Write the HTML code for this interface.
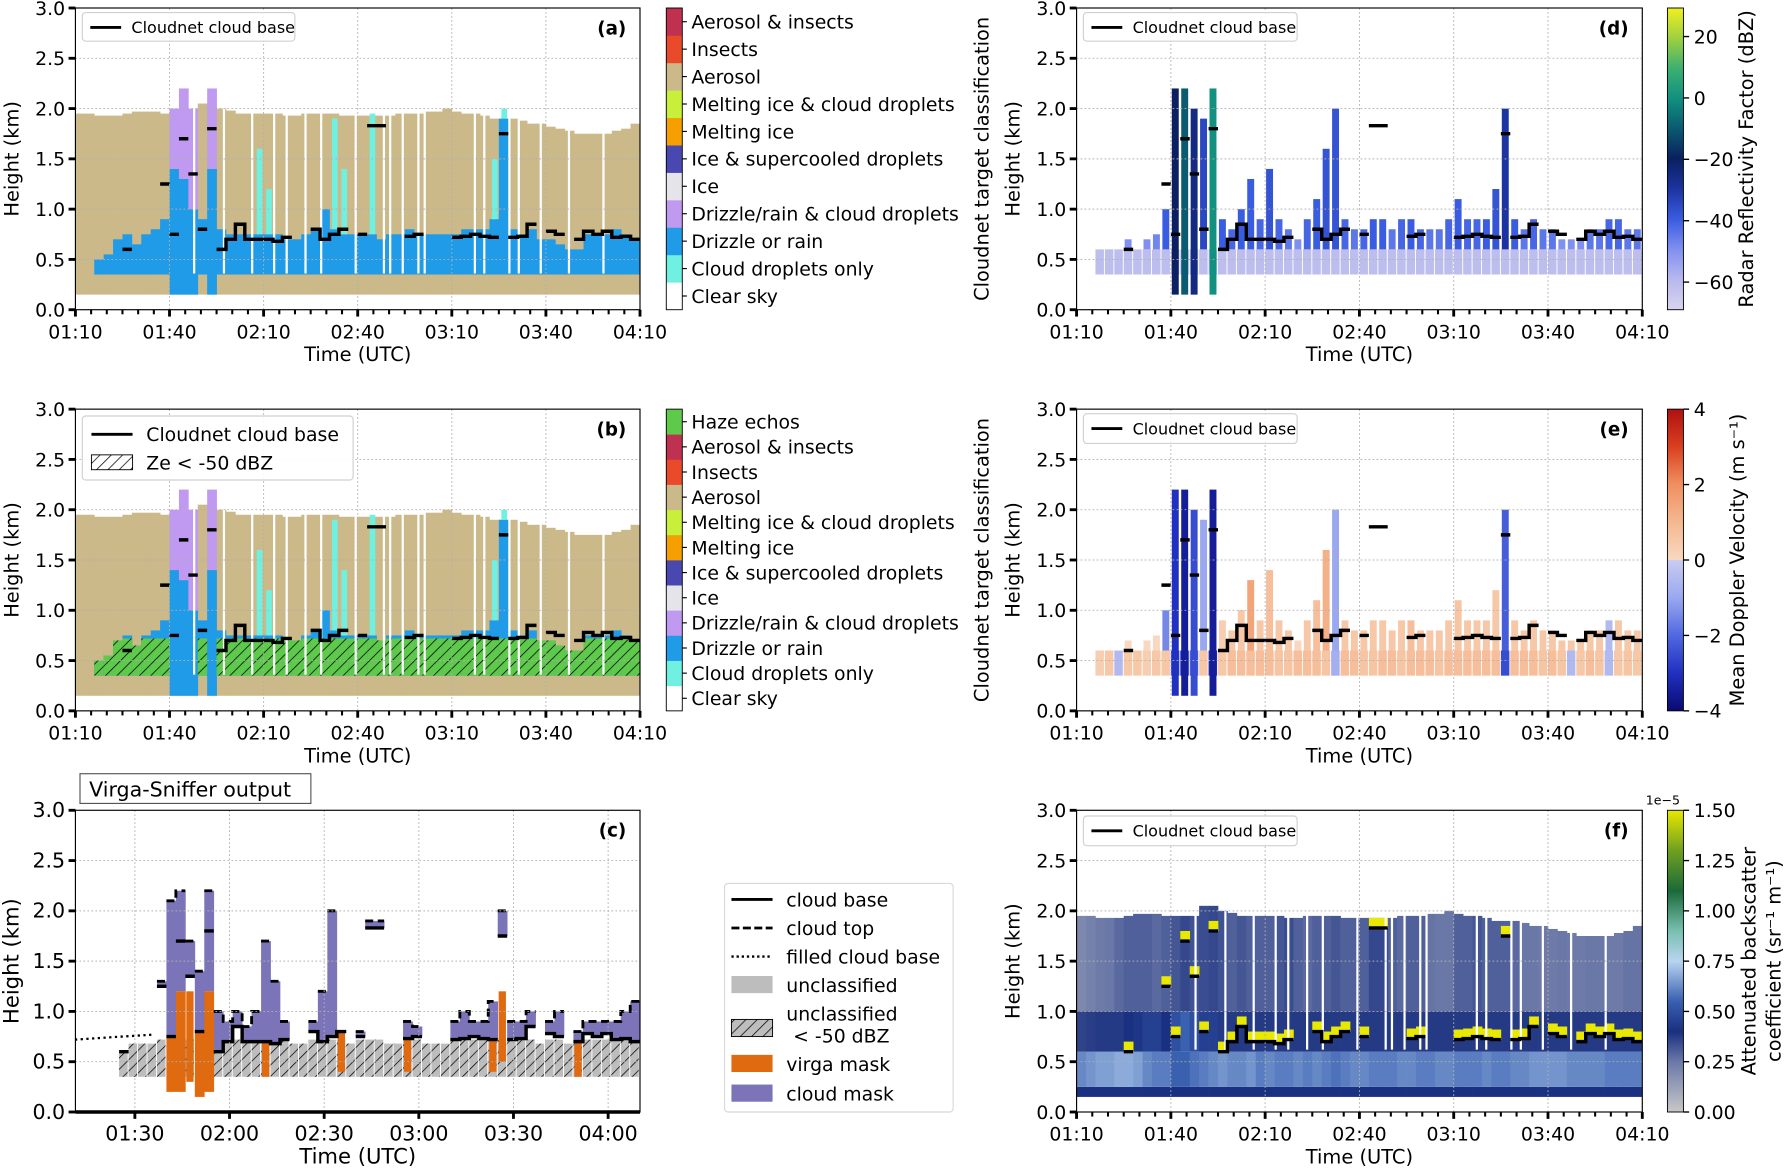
<!DOCTYPE html>
<html><head><meta charset="utf-8"><style>
html,body{margin:0;padding:0;background:#fff}
svg{display:block}
text{font-family:"DejaVu Sans","Liberation Sans",sans-serif;fill:#000}
</style></head><body>
<svg id="fig" width="1792" height="1176" viewBox="0 0 1568 1029" xmlns="http://www.w3.org/2000/svg">
<defs>
<pattern id="hatch" width="7" height="7" patternUnits="userSpaceOnUse" patternTransform="rotate(45)"><line x1="0" y1="0" x2="0" y2="7" stroke="#000" stroke-width="1.3"/></pattern>
<linearGradient id="gd" x1="0" y1="1" x2="0" y2="0"><stop offset="0" stop-color="#d8d4ee"/><stop offset=".1" stop-color="#b8b8ee"/><stop offset=".2" stop-color="#8090f0"/><stop offset=".3" stop-color="#3a5ce0"/><stop offset=".4" stop-color="#1c34a0"/><stop offset=".5" stop-color="#0a2060"/><stop offset=".6" stop-color="#0a5a70"/><stop offset=".7" stop-color="#129080"/><stop offset=".8" stop-color="#3cb070"/><stop offset=".9" stop-color="#9ed040"/><stop offset="1" stop-color="#f0f020"/></linearGradient>
<linearGradient id="ge" x1="0" y1="1" x2="0" y2="0"><stop offset="0" stop-color="#0a0a70"/><stop offset=".125" stop-color="#2030c0"/><stop offset=".25" stop-color="#5068e0"/><stop offset=".375" stop-color="#9aa8f0"/><stop offset=".499" stop-color="#c8ccf0"/><stop offset=".5" stop-color="#f8d8c0"/><stop offset=".625" stop-color="#f5b890"/><stop offset=".75" stop-color="#f09060"/><stop offset=".875" stop-color="#d84020"/><stop offset="1" stop-color="#b01010"/></linearGradient>
<linearGradient id="gf" x1="0" y1="1" x2="0" y2="0"><stop offset="0" stop-color="#c8c8c8"/><stop offset=".167" stop-color="#6a78a8"/><stop offset=".267" stop-color="#1a3080"/><stop offset=".367" stop-color="#3a60b0"/><stop offset=".5" stop-color="#b8d4f0"/><stop offset=".6" stop-color="#78c0b0"/><stop offset=".733" stop-color="#1a6a38"/><stop offset=".867" stop-color="#70a020"/><stop offset="1" stop-color="#e8e800"/></linearGradient>
<clipPath id="ca"><rect x="66" y="7" width="494" height="264"/></clipPath>
<clipPath id="cb"><rect x="66" y="358" width="494" height="264"/></clipPath>
<clipPath id="cc"><rect x="66" y="709" width="494" height="264"/></clipPath>
<clipPath id="cd"><rect x="942" y="7" width="495" height="264"/></clipPath>
<clipPath id="ce"><rect x="942" y="358" width="495" height="264"/></clipPath>
<clipPath id="cf"><rect x="942" y="709" width="495" height="264"/></clipPath>
</defs>
</svg>
<script>
// ---- data (3-minute bins starting 01:10; minutes since 01:00) ----
const binStart = 10, binW = 3;
const aeroTop = [1.95,1.95,1.93,1.93,1.93,1.95,1.97,1.97,1.97,1.95, 1.95,1.95,1.95,2.05,2.05,2.0,1.98,1.95,1.95,1.95, 1.95,1.95,1.93,1.93,1.95,1.95,1.95,1.95,1.93,1.93, 1.93,1.93,1.93,1.93,1.95,1.95,1.95,1.97,1.97,2.0, 1.97,1.95,1.95,1.93,1.9,1.9,1.9,1.88,1.85,1.85, 1.82,1.8,1.78,1.75,1.75,1.75,1.75,1.78,1.8,1.85];
const cloudBase = [0,0,0,0,0,0.6,0,0,0,1.25, 0.75,1.7,1.35,0.8,1.8,0.6,0.7,0.85,0.7,0.7, 0.7,0.68,0.72,0,0,0.8,0.7,0.75,0.8,0, 0.75,1.83,1.83,0,0,0.73,0.75,0,0,0, 0.72,0.73,0.75,0.73,0.72,1.75,0.72,0.73,0.85,0, 0.78,0.75,0,0.7,0.78,0.75,0.78,0.72,0.73,0.7];
const drizzleTop = [0,0,0.5,0.55,0.7,0.75,0.65,0.75,0.8,0.9, 1.4,1.3,1.0,0.9,1.4,0.8,0.75,0.75,0.75,0.75, 0.75,0.75,0.7,0.7,0.75,0.8,1.0,0.8,0.75,0.75, 0.75,0.75,0.7,0.75,0.75,0.8,0.75,0.75,0.75,0.75, 0.75,0.8,0.8,0.8,0.9,1.9,0.8,0.75,0.8,0.7, 0.7,0.65,0.6,0.6,0.75,0.75,0.75,0.8,0.75,0.7];
const purpleTop = [0,0,0,0,0,0,0,0,0,0, 2.0,2.2,2.0,0,2.2,0,0,0,0,0, 0,0,0,0,0,0,0,0,0,0, 0,0,0,0,0,0,0,0,0,0, 0,0,0,0,0,0,0,0,0,0, 0,0,0,0,0,0,0,0,0,0];
const cyanTop = [0,0,0,0,0,0,0,0,0,0, 0,0,0,0,0,0,0,0,0,1.6, 1.2,0,0,0,0,0,0,1.9,1.4,0, 0,1.95,0,0,0,0,0,0,0,0, 0,0,0,0,1.5,2.0,0,0,0,0, 0,0,0,0,0,0,0,0,0,0];
const gapMinutes = [47.5,57,66,73,77,83,88,99,108,110,114,119,121,137,140,148,151,158,167,178];
const radarTop = [0,0,0.55,0.6,0.6,0.7,0.6,0.7,0.75,1.0, 2.2,2.2,2.0,1.9,2.2,0.9,0.8,1.0,1.3,0.9, 1.4,0.9,0.8,0.7,0.9,1.1,1.6,2.0,0.9,0.8, 0.8,0.9,0.9,0.8,0.9,0.9,0.8,0.8,0.8,0.9, 1.1,0.9,0.9,0.9,1.2,2.0,0.9,0.8,0.9,0.8, 0.8,0.7,0.7,0.7,0.8,0.8,0.9,0.9,0.8,0.8];
const radarVal = [-60,-60,-58,-58,-55,-50,-55,-50,-48,-40, -20,-10,-25,-35,0,-40,-42,-40,-40,-42, -38,-42,-45,-50,-42,-40,-38,-38,-42,-45, -42,-40,-40,-45,-42,-40,-42,-45,-45,-42, -40,-42,-42,-40,-38,-30,-40,-45,-42,-45, -45,-50,-50,-50,-45,-45,-42,-42,-45,-45];
const radarLow = -62;
const dopLow = [0,0,0.3,0.5,-0.5,0.5,0.5,0.3,0.5,0.5, -2.5,-3,-2,0.5,-3,0.5,0.8,0.8,0.8,0.8, 0.8,0.6,0.6,0.8,0.8,0.8,0.6,-0.8,0.8,0.8, 0.6,0.6,0.8,0.8,0.6,0.8,0.8,0.8,0.6,0.8, 0.8,0.8,0.8,0.8,0.8,-2.5,0.8,0.8,0.8,0.6, 0.8,0.6,-0.5,0.5,0.8,0.6,-0.5,0.5,0.6,0.5];
const dopUp = [0,0,0,0,0,0,0,0,0,-1.5, -3,-3.5,-2.5,-1,-3.5,0.3,0.5,0.5,1.5,0.5, 0.8,0.5,0.5,0,0.5,0.8,1.2,-1,0.5,0.5, 0.5,0.5,0.5,0.5,0.5,0.8,0.5,0.5,0.5,0.5, 0.6,0.5,0.5,0.5,0.5,-2.2,0.5,0.5,0.5,0.5, 0.5,0.5,0.5,0.5,0.5,0.5,-0.5,0.5,0.5,0.5];
const bsUp = [0.2,0.22,0.24,0.25,0.28,0.3,0.3,0.3,0.28,0.3, 0.32,0.35,0.33,0.34,0.35,0.33,0.3,0.32,0.3,0.3, 0.3,0.32,0.34,0.3,0.28,0.3,0.3,0.32,0.3,0.3, 0.3,0.35,0.35,0.3,0.28,0.3,0.3,0.26,0.25,0.25, 0.3,0.3,0.32,0.3,0.3,0.3,0.28,0.25,0.25,0.24, 0.24,0.25,0.24,0.24,0.25,0.25,0.24,0.24,0.26,0.26];
const bsMid = [0.36,0.37,0.38,0.38,0.38,0.4,0.42,0.45,0.45,0.4, 0.5,0.55,0.5,0.45,0.45,0.38,0.38,0.38,0.38,0.38, 0.38,0.38,0.38,0.38,0.38,0.38,0.38,0.38,0.38,0.38, 0.38,0.38,0.38,0.38,0.38,0.38,0.38,0.38,0.38,0.38, 0.38,0.38,0.38,0.38,0.38,0.38,0.38,0.38,0.38,0.38, 0.38,0.38,0.38,0.38,0.38,0.38,0.38,0.38,0.38,0.38];
const bsLow = [0.62,0.64,0.66,0.66,0.68,0.68,0.66,0.62,0.6,0.6, 0.55,0.55,0.58,0.6,0.62,0.64,0.62,0.62,0.64,0.6, 0.62,0.6,0.6,0.62,0.6,0.62,0.6,0.58,0.6,0.62, 0.62,0.6,0.6,0.6,0.62,0.62,0.6,0.6,0.62,0.62, 0.6,0.6,0.6,0.62,0.6,0.6,0.62,0.62,0.64,0.64, 0.64,0.64,0.62,0.62,0.62,0.62,0.6,0.6,0.6,0.6];
const bsBand = 0.4;
const vsTop = [0,0,0,0,0,0,0,0,0,1.3, 2.1,2.2,1.7,1.4,2.2,1.0,0.9,1.0,0.85,1.0, 1.7,1.3,0.9,1.6,0.9,0.9,1.2,2.0,0.8,0.9, 0.8,1.9,1.9,0,0.9,0.9,0.85,0,0,0, 0.9,1.0,0.9,0.9,1.1,2.0,0.9,0.9,1.0,0, 0.9,1.0,0,0.8,0.9,0.9,0.9,0.9,1.0,1.1];
const virgaBot = [0,0,0,0,0,0,0,0,0,0, 0.2,0.2,0.3,0.15,0.2,0,0,0,0,0, 0.35,0,0,0,0,0,0,0,0.4,0, 0,0,0,0,0,0.4,0,0,0,0, 0,0,0,0,0.4,0.5,0,0,0,0, 0,0,0,0.35,0,0,0,0,0,0];
const filledBaseT = [11, 36]; const filledBaseH = 0.72;
const timeTicks = [10,40,70,100,130,160,190];
const timeLabels = ["01:10","01:40","02:10","02:40","03:10","03:40","04:10"];
const cTimeTicks = [30,60,90,120,150,180];
const cTimeLabels = ["01:30","02:00","02:30","03:00","03:30","04:00"];
const hTicks = [0,0.5,1,1.5,2,2.5,3];
const hLabels = ["0.0","0.5","1.0","1.5","2.0","2.5","3.0"];
const classNamesA = ["Clear sky","Cloud droplets only","Drizzle or rain","Drizzle/rain & cloud droplets","Ice","Ice & supercooled droplets","Melting ice","Melting ice & cloud droplets","Aerosol","Insects","Aerosol & insects"];
const classColorsA = ["#ffffff","#70f0e0","#1f9be8","#c09af0","#e4e4ea","#4848b0","#f5a000","#c8f03a","#cbb98a","#e84a2a","#c03050"];
const dTicks = [20,0,-20,-40,-60]; const eTicks = [4,2,0,-2,-4]; const fTicks = [0,0.25,0.5,0.75,1,1.25,1.5];
const fLabels = ["0.00","0.25","0.50","0.75","1.00","1.25","1.50"];

const cmapD=[[-70,"#d8d4ee"],[-60,"#b8b8ee"],[-50,"#8090f0"],[-40,"#3a5ce0"],[-30,"#1c34a0"],[-20,"#0a2060"],[-10,"#0a5a70"],[0,"#129080"],[10,"#3cb070"],[20,"#9ed040"],[30,"#f0f020"]];
const cmapE=[[-4,"#0a0a70"],[-3,"#2030c0"],[-2,"#5068e0"],[-1,"#9aa8f0"],[-0.01,"#c8ccf0"],[0,"#f8d8c0"],[1,"#f5b890"],[2,"#f09060"],[3,"#d84020"],[4,"#b01010"]];
const cmapF=[[0,"#c8c8c8"],[0.25,"#6a78a8"],[0.4,"#1a3080"],[0.55,"#3a60b0"],[0.75,"#b8d4f0"],[0.9,"#78c0b0"],[1.1,"#1a6a38"],[1.3,"#70a020"],[1.5,"#e8e800"]];
function cmap(m,v){if(v<=m[0][0])return m[0][1];for(let i=1;i<m.length;i++){if(v<=m[i][0]){const f=(v-m[i-1][0])/(m[i][0]-m[i-1][0]);const a=m[i-1][1],b=m[i][1];const c=k=>Math.round(parseInt(a.substr(k,2),16)*(1-f)+parseInt(b.substr(k,2),16)*f);return `rgb(${c(1)},${c(3)},${c(5)})`;}}return m[m.length-1][1];}

const NS='http://www.w3.org/2000/svg';
const svg=document.getElementById('fig');
function mk(p,tag,a){const e=document.createElementNS(NS,tag);for(const k in a)e.setAttribute(k,a[k]);p.appendChild(e);return e;}
function txt(p,x,y,s,size,extra){const t=mk(p,'text',Object.assign({x:x,y:y,'font-size':size},extra||{}));t.textContent=s;return t;}

const P={a:[66,7,494,264,10,190],b:[66,358,494,264,10,190],c:[66,709,494,264,11.16,190.1],d:[942,7,495,264,10,190],e:[942,358,495,264,10,190],f:[942,709,495,264,10,190]};
function ax(k){const [L,T,W,H,t0,t1]=P[k];return {x:t=>L+(t-t0)/(t1-t0)*W,y:h=>T+H-h/3*H,L,T,W,H};}
function rect(g,A,t0,t1,h0,h1,fill){return mk(g,'rect',{x:A.x(t0),y:A.y(h1),width:Math.max(0,A.x(t1)-A.x(t0))+0.3,height:Math.max(0,A.y(h0)-A.y(h1)),fill:fill});}

function frame(k,ticks,labels,minor,fs){
  const A=ax(k);const g=mk(svg,'g',{});
  
  
  ticks.forEach((t,i)=>{const l=mk(g,'line',{x1:A.x(t),x2:A.x(t),y1:A.T,y2:A.T+A.H,stroke:'#b0b0b0','stroke-width':0.8,'stroke-dasharray':'1.5,2'});
    
    });
  hTicks.forEach(h=>{const l=mk(g,'line',{x1:A.L,x2:A.L+A.W,y1:A.y(h),y2:A.y(h),stroke:'#b0b0b0','stroke-width':0.8,'stroke-dasharray':'1.5,2'});
    
    });
  const fr=mk(g,'rect',{x:A.L,y:A.T,width:A.W,height:A.H,fill:'none',stroke:'#000','stroke-width':1});
  
  
  ticks.forEach((t,i)=>{const l=mk(g,'line',{x1:A.x(t),x2:A.x(t),y1:A.T+A.H,y2:A.T+A.H+6,stroke:'#000','stroke-width':2.5});
    
    
    const s=txt(g,A.x(t),A.T+A.H+25,labels[i],fs,{'text-anchor':'middle'});
    
    });
  if(minor){for(let t=ticks[0];t<=ticks[ticks.length-1];t+=5){if((t-ticks[0])%30===0)continue;const l=mk(g,'line',{x1:A.x(t),x2:A.x(t),y1:A.T+A.H,y2:A.T+A.H+4,stroke:'#000','stroke-width':1.8});
    
    }}
  hTicks.forEach((h,i)=>{const l=mk(g,'line',{x1:A.L-6,x2:A.L,y1:A.y(h),y2:A.y(h),stroke:'#000','stroke-width':2.5});
    
    
    const s=txt(g,A.L-9,A.y(h)+6,hLabels[i],fs,{'text-anchor':'end'});
    
    });
  const yl=txt(g,0,0,'Height (km)',fs+0.5,{'text-anchor':'middle',transform:`translate(${A.L-50},${A.T+A.H/2}) rotate(-90)`});
  
  
  const xl=txt(g,A.L+A.W/2,A.T+A.H+45,'Time (UTC)',fs+0.5,{'text-anchor':'middle'});
  
  
  const pl=txt(g,A.L+A.W-12,A.T+23,'('+k+')',16,{'text-anchor':'end','font-weight':'bold'});
  
  
  return A;
}
function stepPath(A,hs,mask){
  let d='';
  hs.forEach((h,i)=>{if(!h||(mask&&!mask[i]))return;const t=binStart+i*binW;const p=i>0?hs[i-1]:0;const ok=p&&(!mask||mask[i-1])&&Math.abs(p-h)<0.25;
    d+=(ok?'L':'M')+A.x(t)+' '+A.y(h)+' L'+(A.x(t+binW))+' '+A.y(h)+' ';});
  return d;
}
function cbLine(g,A){
  const p=mk(g,'path',{d:stepPath(A,cloudBase),fill:'none',stroke:'#000','stroke-width':3});
  
  
}
function legendBox(x,y,w,h,label,fs){
  const g=mk(svg,'g',{});
  
  
  mk(g,'rect',{x:x,y:y,width:w,height:h,rx:3,fill:'#fff','fill-opacity':0.85,stroke:'#d0d0d0'});
  mk(g,'line',{x1:x+7,x2:x+34,y1:y+13,y2:y+13,stroke:'#000','stroke-width':2.5});
  const t=txt(g,x+43,y+18,label,fs);
  
  
  return g;
}
function classPanel(k,haze){
  const A=ax(k);const g=mk(svg,'g',{'clip-path':`url(#c${k})`});
  
  
  aeroTop.forEach((h,i)=>{const t=binStart+i*binW;const r=rect(g,A,t,t+binW,0.15,h,'#cbb98a');
    
    });
  drizzleTop.forEach((h,i)=>{if(!h)return;const t=binStart+i*binW;const tower=purpleTop[i]>0;
    const r=rect(g,A,t,t+binW,tower?0.15:0.35,h,'#1f9be8');
    
    
    if(haze&&!tower){const r2=rect(g,A,t,t+binW,0.35,Math.min(h,0.72),'#5ec94a');
      
      
      const r3=rect(g,A,t,t+binW,0.35,Math.min(h,0.72),'url(#hatch)');
      
      }});
  purpleTop.forEach((h,i)=>{if(!h)return;const t=binStart+i*binW;const r=rect(g,A,t,t+binW,drizzleTop[i],h,'#c09af0');
    
    });
  cyanTop.forEach((h,i)=>{if(!h)return;const t=binStart+i*binW;const r=rect(g,A,t+0.8,t+binW-0.5,drizzleTop[i],h,'#70f0e0');
    
    });
  gapMinutes.forEach(m=>{const r=rect(g,A,m,m+0.6,0.36,2.1,'#fff');
    
    });
  cbLine(g,A);
}
function classBar(x,y,h,names,colors){
  const g=mk(svg,'g',{});
  
  
  const n=names.length,s=h/n;
  names.forEach((nmv,i)=>{const yy=y+h-(i+1)*s;const r=mk(g,'rect',{x:x,y:yy,width:14,height:s+0.3,fill:colors[i]});
    
    
    mk(g,'line',{x1:x+14,x2:x+18,y1:yy+s/2,y2:yy+s/2,stroke:'#000','stroke-width':1});
    const t=txt(g,x+22,yy+s/2+6,nmv,16.5);
    
    });
  mk(g,'rect',{x:x,y:y,width:14,height:h,fill:'none',stroke:'#000','stroke-width':0.8});
}
function contBar(x,y,h,grad,vmin,vmax,ticks,labels){
  const g=mk(svg,'g',{});
  
  
  mk(g,'rect',{x:x,y:y,width:14,height:h,fill:`url(#${grad})`,stroke:'#000','stroke-width':0.8});
  ticks.forEach((v,i)=>{const yy=y+h-(v-vmin)/(vmax-vmin)*h;mk(g,'line',{x1:x+14,x2:x+19,y1:yy,y2:yy,stroke:'#000','stroke-width':1.2});
    const t=txt(g,x+23,yy+6,labels[i],16.5);
    
    });
  return g;
}

// ---- panel a ----
classPanel('a',false);
frame('a',timeTicks,timeLabels,true,16.5);
legendBox(72,11,186,25,'Cloudnet cloud base',14);
classBar(583,7,264,classNamesA,classColorsA);
// ---- panel b ----
classPanel('b',true);
frame('b',timeTicks,timeLabels,true,16.5);
{const g=mk(svg,'g',{});
 
 
 mk(g,'rect',{x:72,y:364,width:237,height:56,rx:3,fill:'#fff','fill-opacity':0.9,stroke:'#d0d0d0'});
 mk(g,'line',{x1:80,x2:116,y1:380,y2:380,stroke:'#000','stroke-width':2.5});
 const t1=txt(g,128,386,'Cloudnet cloud base',16.5);
 
 
 mk(g,'rect',{x:80,y:398,width:36,height:13,fill:'url(#hatch)',stroke:'#000','stroke-width':0.8});
 const t2=txt(g,128,411,'Ze < -50 dBZ',16.5);
 
 }
classBar(583,358,264,["Clear sky"].concat(classNamesA.slice(1),["Haze echos"]),classColorsA.concat(["#5ec94a"]));
[139,490].forEach(cy=>{const t=txt(svg,0,0,'Cloudnet target classification',17,{'text-anchor':'middle',transform:`translate(865,${cy}) rotate(-90)`});
  
  });

// ---- panel c ----
{const A=ax('c');const g=mk(svg,'g',{'clip-path':'url(#cc)'});
 
 
 drizzleTop.forEach((h,i)=>{const t=binStart+i*binW;if(!h||t<23||virgaBot[i]&&virgaBot[i]<0.3)return;
   const top=cloudBase[i]?Math.min(cloudBase[i],0.72):0.68;
   const r=rect(g,A,t,t+binW-0.4,0.35,top,'#bdbdbd');
   
   
   const r2=rect(g,A,t,t+binW-0.4,0.35,top,'url(#hatch)');
   
   });
 const vTop=i=>virgaBot[i]?Math.min(cloudBase[i]||0.7,1.2):0;
 vsTop.forEach((h,i)=>{const cbv=cloudBase[i];if(!h||!cbv)return;const lo=virgaBot[i]&&virgaBot[i]<0.3?vTop(i):cbv;if(h<=lo)return;const t=binStart+i*binW;
   const r=rect(g,A,t,t+binW,lo,h,'#7b74b8');
   
   });
 virgaBot.forEach((h,i)=>{if(!h)return;const t=binStart+i*binW;const tower=h<0.3;
   const r=rect(g,A,tower?t:t+0.3,tower?t+binW:t+binW-0.5,h,vTop(i),'#e06a10');
   
   });
 const ct=mk(g,'path',{d:stepPath(A,vsTop,cloudBase),fill:'none',stroke:'#000','stroke-width':2.5,'stroke-dasharray':'7,4'});
 
 
 cbLine(g,A);
 const fb=mk(g,'line',{x1:A.x(filledBaseT[0]),x2:A.x(filledBaseT[1]),y1:A.y(filledBaseH),y2:A.y(filledBaseH+0.05),stroke:'#000','stroke-width':2,'stroke-dasharray':'2,3'});
 
 }
frame('c',cTimeTicks,cTimeLabels,false,18);
{const A=ax('c');const b=mk(svg,'line',{x1:A.L,x2:A.L+A.W,y1:A.T+A.H,y2:A.T+A.H,stroke:'#000','stroke-width':3});
 
 }
{const g=mk(svg,'g',{});
 
 
 mk(g,'rect',{x:70,y:677,width:202,height:26,fill:'#fff',stroke:'#555'});
 const t=txt(g,78,697,'Virga-Sniffer output',18);
 
 }
{const g=mk(svg,'g',{});
 
 
 mk(g,'rect',{x:634,y:773,width:200,height:200,rx:3,fill:'#fff',stroke:'#d8d8d8'});
 const L=[['cloud base',787,'solid'],['cloud top',812,'dash'],['filled cloud base',837,'dot'],['unclassified',862,'gray'],['unclassified',887,'hatch'],['virga mask',931,'orange'],['cloud mask',957,'purple']];
 L.forEach(([s,y,k])=>{
   if(k==='solid')mk(g,'line',{x1:640,x2:676,y1:y,y2:y,stroke:'#000','stroke-width':2.5});
   if(k==='dash')mk(g,'line',{x1:640,x2:676,y1:y,y2:y,stroke:'#000','stroke-width':2.5,'stroke-dasharray':'7,3'});
   if(k==='dot')mk(g,'line',{x1:640,x2:676,y1:y,y2:y,stroke:'#000','stroke-width':2,'stroke-dasharray':'2,2.5'});
   if(k==='gray')mk(g,'rect',{x:640,y:y-8,width:36,height:15,fill:'#bdbdbd'});
   if(k==='hatch'){mk(g,'rect',{x:640,y:y+5,width:36,height:15,fill:'#bdbdbd'});mk(g,'rect',{x:640,y:y+5,width:36,height:15,fill:'url(#hatch)',stroke:'#000','stroke-width':0.8});}
   if(k==='orange')mk(g,'rect',{x:640,y:y-8,width:36,height:15,fill:'#e06a10'});
   if(k==='purple')mk(g,'rect',{x:640,y:y-8,width:36,height:15,fill:'#7b74b8'});
   const t=txt(g,688,y+6,s,16.5);
   
   });
 const t=txt(g,694,912,'< -50 dBZ',16.5);
 
 }

// ---- panel d ----
{const A=ax('d');const g=mk(svg,'g',{'clip-path':'url(#cd)'});
 
 
 drizzleTop.forEach((h,i)=>{if(!h)return;const t=binStart+i*binW;
   const r=rect(g,A,t,t+binW-0.4,0.35,0.6,cmap(cmapD,radarLow));
   
   });
 radarTop.forEach((h,i)=>{if(!h||h<=0.6)return;const t=binStart+i*binW;const tower=purpleTop[i]>0;
   const r=rect(g,A,t+0.3,t+binW-0.6,tower?0.15:0.6,h,cmap(cmapD,radarVal[i]));
   
   });
 cbLine(g,A);}
frame('d',timeTicks,timeLabels,true,16.5);
legendBox(948,11,187,25,'Cloudnet cloud base',14);
contBar(1459,7,264,'gd',-69,29.3,dTicks,dTicks.map(v=>v<0?'\u2212'+(-v):String(v)));
{const t=txt(svg,0,0,'Radar Reflectivity Factor (dBZ)',17,{'text-anchor':'middle',transform:'translate(1534,139) rotate(-90)'});
 
 }

// ---- panel e ----
{const A=ax('e');const g=mk(svg,'g',{'clip-path':'url(#ce)'});
 
 
 dopLow.forEach((v,i)=>{if(!drizzleTop[i])return;const t=binStart+i*binW;
   const r=rect(g,A,t,t+binW-0.4,0.35,0.6,cmap(cmapE,v));
   
   });
 dopUp.forEach((v,i)=>{const h=radarTop[i];if(!h||h<=0.6)return;const t=binStart+i*binW;const tower=purpleTop[i]>0;
   const r=rect(g,A,t+0.3,t+binW-0.6,tower?0.15:0.6,h,cmap(cmapE,v));
   
   });
 cbLine(g,A);}
frame('e',timeTicks,timeLabels,true,16.5);
legendBox(948,362,187,26,'Cloudnet cloud base',14);
contBar(1459,358,264,'ge',-4,4,eTicks,eTicks.map(v=>v<0?'\u2212'+(-v):String(v)));
{const t=txt(svg,0,0,'Mean Doppler Velocity (m s\u207B\u00B9)',17,{'text-anchor':'middle',transform:'translate(1526,490) rotate(-90)'});
 
 }

// ---- panel f ----
{const A=ax('f');const g=mk(svg,'g',{'clip-path':'url(#cf)'});
 
 
 aeroTop.forEach((h,i)=>{const t=binStart+i*binW;
   const layers=[[0.15,0.25,bsBand],[0.25,0.6,bsLow[i]],[0.6,1.0,bsMid[i]],[1.0,h,bsUp[i]]];
   layers.forEach(([a,b,v])=>{const r=rect(g,A,t,t+binW,a,b,cmap(cmapF,v));
     
     });});
 cloudBase.forEach((h,i)=>{if(!h)return;const t=binStart+i*binW;
   const r=rect(g,A,t,t+binW,h,h+0.1,cmap(cmapF,1.5));
   
   });
 gapMinutes.forEach(m=>{const r=rect(g,A,m,m+0.6,0.62,2.1,'#fff');
   
   });
 cbLine(g,A);}
frame('f',timeTicks,timeLabels,true,16.5);
legendBox(948,714,187,26,'Cloudnet cloud base',14);
contBar(1459,709,264,'gf',0,1.5,fTicks,fLabels);
{const t=txt(svg,1440,704,'1e\u22125',11);
 
 
 const t1=txt(svg,0,0,'Attenuated backscatter',17,{'text-anchor':'middle',transform:'translate(1536,841) rotate(-90)'});
 
 
 const t2=txt(svg,0,0,'coefficient (sr\u207B\u00B9 m\u207B\u00B9)',17,{'text-anchor':'middle',transform:'translate(1558,841) rotate(-90)'});
 
 }
</script>
</body></html>
